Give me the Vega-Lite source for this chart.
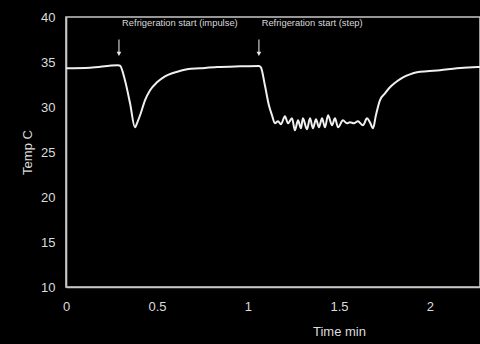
{
  "$schema": "https://vega.github.io/schema/vega-lite/v6.json",
  "autosize": {"type": "none"},
  "width": 414,
  "height": 270,
  "padding": {"left": 66, "top": 17, "right": 0, "bottom": 57},
  "background": "black",
  "config": {
    "view": {"stroke": "#c8c8c8", "strokeWidth": 1.6},
    "font": "Liberation Sans",
    "axis": {"grid": false, "ticks": false, "domainColor": "#c8c8c8", "domainWidth": 1.6, "labelColor": "#dcdcdc", "titleColor": "#dcdcdc", "labelFontSize": 13, "titleFontSize": 13, "labelFont": "Liberation Sans", "titleFont": "Liberation Sans", "titleFontWeight": "normal"}
  },
  "datasets": {
    "curve": [
      {"t": 0, "T": 34.3}, {"t": 0.132, "T": 34.36}, {"t": 0.286, "T": 34.63}, {"t": 0.297, "T": 34.58},
      {"t": 0.324, "T": 32.97}, {"t": 0.352, "T": 30.41}, {"t": 0.379, "T": 27.74}, {"t": 0.39, "T": 28.19},
      {"t": 0.407, "T": 29.08}, {"t": 0.434, "T": 30.74}, {"t": 0.462, "T": 31.86}, {"t": 0.5, "T": 32.74},
      {"t": 0.544, "T": 33.41}, {"t": 0.588, "T": 33.78}, {"t": 0.626, "T": 34.0}, {"t": 0.665, "T": 34.19},
      {"t": 0.736, "T": 34.3}, {"t": 0.83, "T": 34.44}, {"t": 0.956, "T": 34.52}, {"t": 1.06, "T": 34.56},
      {"t": 1.071, "T": 34.41}, {"t": 1.093, "T": 32.41}, {"t": 1.115, "T": 30.19}, {"t": 1.132, "T": 29.08},
      {"t": 1.148, "T": 28.19}, {"t": 1.165, "T": 28.41}, {"t": 1.181, "T": 28.08}, {"t": 1.203, "T": 28.97},
      {"t": 1.22, "T": 28.19}, {"t": 1.242, "T": 28.74}, {"t": 1.258, "T": 27.41}, {"t": 1.275, "T": 28.52},
      {"t": 1.291, "T": 27.63}, {"t": 1.302, "T": 28.74}, {"t": 1.324, "T": 27.52}, {"t": 1.341, "T": 28.74},
      {"t": 1.357, "T": 27.63}, {"t": 1.374, "T": 28.63}, {"t": 1.39, "T": 27.74}, {"t": 1.407, "T": 28.74},
      {"t": 1.423, "T": 27.74}, {"t": 1.44, "T": 29.08}, {"t": 1.462, "T": 27.97}, {"t": 1.478, "T": 28.74},
      {"t": 1.495, "T": 27.74}, {"t": 1.522, "T": 28.52}, {"t": 1.544, "T": 28.19}, {"t": 1.56, "T": 28.3},
      {"t": 1.582, "T": 28.19}, {"t": 1.604, "T": 28.41}, {"t": 1.632, "T": 27.97}, {"t": 1.654, "T": 28.74},
      {"t": 1.67, "T": 28.3}, {"t": 1.687, "T": 27.63}, {"t": 1.703, "T": 29.08}, {"t": 1.725, "T": 30.74},
      {"t": 1.753, "T": 31.52}, {"t": 1.78, "T": 32.19}, {"t": 1.819, "T": 32.86}, {"t": 1.852, "T": 33.3},
      {"t": 1.89, "T": 33.63}, {"t": 1.929, "T": 33.86}, {"t": 1.984, "T": 33.97}, {"t": 2.055, "T": 34.08},
      {"t": 2.148, "T": 34.3}, {"t": 2.236, "T": 34.41}, {"t": 2.275, "T": 34.44}
    ],
    "notes": [
      {"t": 0.308, "T": 39.3, "label": "Refrigeration start (impulse)"},
      {"t": 1.075, "T": 39.3, "label": "Refrigeration start (step)"}
    ],
    "arrows": [
      {"t": 0.291, "top": 37.5, "bottom": 35.9},
      {"t": 1.06, "top": 37.5, "bottom": 35.9}
    ]
  },
  "layer": [
    {
      "data": {"name": "curve"},
      "mark": {"type": "line", "color": "#f0f0f0", "strokeWidth": 2, "interpolate": "monotone"},
      "encoding": {
        "x": {"field": "t", "type": "quantitative", "scale": {"domain": [0, 2.275], "nice": false, "zero": false},
          "axis": {"values": [0, 0.5, 1, 1.5, 2], "format": "~g", "labelPadding": 13, "title": "Time min", "titleX": 273, "titleY": 48, "titleBaseline": "alphabetic", "titleAnchor": null, "labelFlush": false}},
        "y": {"field": "T", "type": "quantitative", "scale": {"domain": [10, 40], "nice": false, "zero": false},
          "axis": {"values": [10, 15, 20, 25, 30, 35, 40], "labelPadding": 11, "title": "Temp C", "titleX": -39, "titleY": 135, "titleAngle": -90, "titleAlign": "center", "titleBaseline": "middle", "titleAnchor": null}}
      }
    },
    {
      "data": {"name": "notes"},
      "mark": {"type": "text", "align": "left", "baseline": "middle", "color": "#d8d8d8", "fontSize": 9.4, "font": "Liberation Sans"},
      "encoding": {
        "x": {"field": "t", "type": "quantitative"},
        "y": {"field": "T", "type": "quantitative"},
        "text": {"field": "label"}
      }
    },
    {
      "data": {"name": "arrows"},
      "mark": {"type": "rule", "color": "#bdbdbd", "strokeWidth": 1.3},
      "encoding": {
        "x": {"field": "t", "type": "quantitative"},
        "y": {"field": "top", "type": "quantitative"},
        "y2": {"field": "bottom"}
      }
    },
    {
      "data": {"name": "arrows"},
      "mark": {"type": "point", "shape": "triangle-down", "filled": true, "color": "#e8e8e8", "size": 22, "opacity": 1},
      "encoding": {
        "x": {"field": "t", "type": "quantitative"},
        "y": {"field": "bottom", "type": "quantitative"}
      }
    }
  ]
}
